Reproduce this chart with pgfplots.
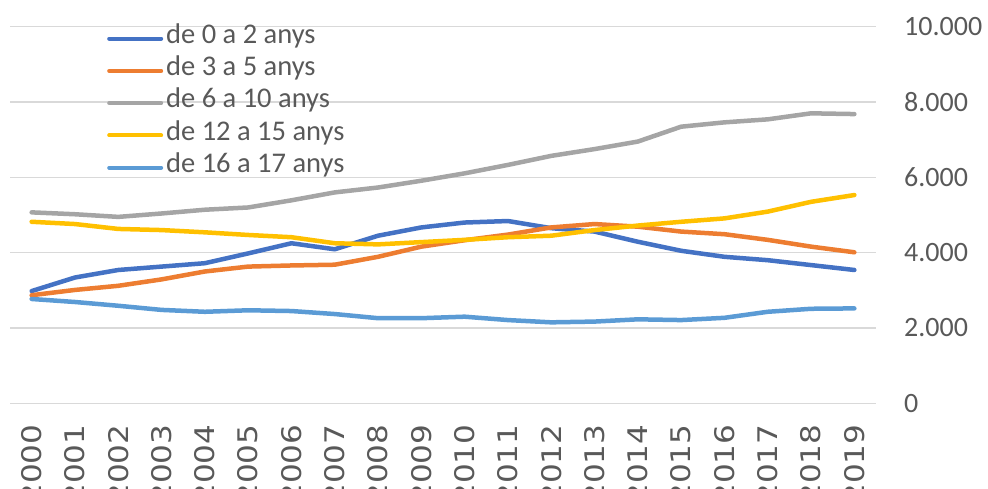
\documentclass[border=0pt]{standalone}
\usepackage{pgfplots}
\pgfplotsset{compat=1.18}
\usepackage{pgfplotstable}
\usepackage{fontspec}
\setmainfont{Carlito}
\newfontfamily\dejavu{DejaVu Sans}
\definecolor{cblue}{HTML}{4472C4}
\definecolor{corange}{HTML}{ED7D31}
\definecolor{cgray}{HTML}{A5A5A5}
\definecolor{cyellow}{HTML}{FFC000}
\definecolor{clblue}{HTML}{5B9BD5}
\definecolor{txt}{HTML}{595959}
\definecolor{gridc}{HTML}{D9D9D9}

\pgfplotstableread{
year a b c d e
2000 2980 2870 5070 4820 2770
2001 3340 3010 5020 4760 2690
2002 3540 3120 4950 4630 2590
2003 3630 3290 5040 4600 2480
2004 3720 3500 5140 4540 2430
2005 3980 3630 5200 4470 2470
2006 4250 3660 5390 4410 2450
2007 4090 3680 5600 4250 2370
2008 4450 3890 5730 4220 2260
2009 4670 4160 5910 4280 2260
2010 4800 4330 6106 4340 2300
2011 4840 4480 6330 4410 2210
2012 4650 4670 6570 4450 2150
2013 4560 4760 6750 4600 2170
2014 4290 4690 6950 4720 2230
2015 4050 4560 7345 4820 2210
2016 3890 4490 7460 4910 2270
2017 3800 4340 7540 5090 2430
2018 3670 4160 7700 5350 2510
2019 3540 4010 7680 5530 2520
}\datatable

\begin{document}
\begin{tikzpicture}
\useasboundingbox (0,0) rectangle (988pt,488pt);
\begin{axis}[
  at={(10pt,84.7pt)}, anchor=south west,
  scale only axis, width=866pt, height=376.6pt,
  xmin=1999.5, xmax=2019.5, ymin=0, ymax=10000,
  xtick={2000,...,2019}, ytick={0,2000,...,10000},
  scaled y ticks=false, scaled x ticks=false,
  axis line style={draw=none}, tick style={draw=none},
  ymajorgrids, grid style={color=gridc, line width=1.5pt},
  yticklabel pos=right,
  /pgf/number format/assume math mode=true,
  x tick label style={/pgf/number format/1000 sep={}, rotate=90, xscale=1.15, anchor=east,
    inner xsep=18.3pt, inner ysep=0pt, font=\dejavu\fontsize{27}{28}\selectfont, text=txt},
  y tick label style={/pgf/number format/fixed, /pgf/number format/1000 sep={.}, anchor=west,
    inner xsep=28pt, inner ysep=0pt, font=\fontsize{28}{30}\selectfont, text=txt},
  legend cell align=left,
  legend image code/.code={\draw[#1, line width=4pt, line cap=round] (0pt,0pt) -- (52pt,0pt);},
  legend style={at={(axis description cs:0.112,1.012)}, anchor=north west,
    draw=none, fill=none, inner sep=0pt, row sep=0pt, column sep=3pt,
    font=\fontsize{28.5}{30}\selectfont, text=txt,
    nodes={inner sep=0pt, text height=21pt, text depth=11.3pt}},
  every axis plot/.append style={line width=4.5pt, line join=round, line cap=round},
]
\addplot[cblue] table[x=year, y=a] {\datatable};
\addlegendentry{de 0 a 2 anys}
\addplot[corange] table[x=year, y=b] {\datatable};
\addlegendentry{de 3 a 5 anys}
\addplot[cgray] table[x=year, y=c] {\datatable};
\addlegendentry{de 6 a 10 anys}
\addplot[cyellow] table[x=year, y=d] {\datatable};
\addlegendentry{de 12 a 15 anys}
\addplot[clblue] table[x=year, y=e] {\datatable};
\addlegendentry{de 16 a 17 anys}
\end{axis}
\end{tikzpicture}
\end{document}
